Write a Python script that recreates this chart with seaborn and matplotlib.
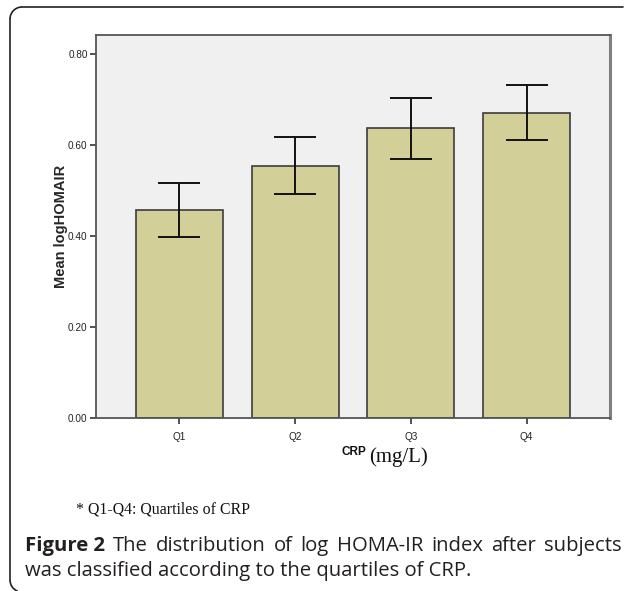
import numpy as np
import pandas as pd
import matplotlib
matplotlib.use('Agg')
import matplotlib.pyplot as plt
import seaborn as sns
from matplotlib.lines import Line2D
from matplotlib.patches import Arc

# Data
quartiles = ['Q1', 'Q2', 'Q3', 'Q4']
mean_loghomair = [0.457, 0.555, 0.637, 0.671]
ci_low = [0.399, 0.493, 0.569, 0.611]
ci_high = [0.516, 0.617, 0.703, 0.731]
y_ticks = [0.0, 0.2, 0.4, 0.6, 0.8]

df = pd.DataFrame({'CRP': quartiles, 'logHOMAIR': mean_loghomair})

sns.set_style('white')
plt.rcParams['font.family'] = ['Liberation Sans', 'DejaVu Sans']

fig = plt.figure(figsize=(6.25, 5.91), dpi=100)
ax = fig.add_axes([96 / 625, 1 - 418 / 591, 514 / 625, 383 / 591])
ax.set_facecolor('#f0f0f0')

sns.barplot(data=df, x='CRP', y='logHOMAIR', color='#d3cf98', saturation=1,
            width=0.75, edgecolor='#3c3c3c', linewidth=1.2, errorbar=None, ax=ax)

# error bars (95% CI)
means = np.array(mean_loghomair)
yerr = [means - np.array(ci_low), np.array(ci_high) - means]
ax.errorbar(np.arange(len(quartiles)), means, yerr=yerr, fmt='none',
            ecolor='#111111', elinewidth=1.4, capsize=15, capthick=1.4)

ax.set_xlim(-0.72, 3.72)
ax.set_ylim(0, 0.842)
ax.set_yticks(y_ticks)
ax.set_yticklabels([f'{t:.2f}' for t in y_ticks])
ax.tick_params(axis='both', labelsize=7.2, length=4, width=1.2, color='#333333',
               labelcolor='#222222', direction='out', pad=2, left=True, bottom=True)
ax.tick_params(axis='x', pad=6)

for side in ['left', 'bottom', 'top']:
    ax.spines[side].set_color('#555555')
    ax.spines[side].set_linewidth(1.3)
ax.spines['right'].set_color('#808080')
ax.spines['right'].set_linewidth(2.2)

ax.set_xlabel('')
ax.set_ylabel('Mean logHOMAIR', fontsize=10.5, fontweight='bold', labelpad=0)

# x axis label: bold sans + serif unit
fig.text(366 / 625, 1 - 455 / 591, 'CRP', fontsize=8.5, fontweight='bold',
         ha='right', va='baseline', color='#111111')
fig.text(369 / 625, 1 - 462 / 591, '(mg/L)', fontsize=15,
         family=['Liberation Serif', 'DejaVu Serif'], ha='left', va='baseline', color='#111111')

# footnote
fig.text(76 / 625, 1 - 513 / 591, '* Q1-Q4: Quartiles of CRP', fontsize=11.4,
         family=['Liberation Serif', 'DejaVu Serif'], ha='left', va='baseline', color='#111111')

# caption (first line justified to the full width)
cap_font = ['Open Sans', 'DejaVu Sans']
cap_size = 14.6
cap_color = '#231f20'
line1 = [('Figure 2', 'bold')] + [(w, 'normal') for w in
                                  'The distribution of log HOMA-IR index after subjects'.split()]
renderer = fig.canvas.get_renderer()
words = []
for w, weight in line1:
    t = fig.text(0, 1 - 551 / 591, w, fontsize=cap_size, fontweight=weight,
                 family=cap_font, ha='left', va='baseline', color=cap_color)
    words.append((t, t.get_window_extent(renderer).width))
x_left, x_right = 25, 622
gap = (x_right - x_left - sum(wd for _, wd in words)) / (len(words) - 1)
x = x_left
for t, wd in words:
    t.set_x(x / 625)
    x += wd + gap
fig.text(25 / 625, 1 - 576 / 591, 'was classified according to the quartiles of CRP.',
         fontsize=cap_size, family=cap_font, ha='left', va='baseline', color=cap_color)

# outer frame (top + left with rounded corners)
r = 12
fig.add_artist(Line2D([(10 + r) / 625, 623 / 625], [1 - 7 / 591, 1 - 7 / 591],
                      color='#222222', lw=1.2, transform=fig.transFigure))
fig.add_artist(Line2D([10 / 625, 10 / 625], [1 - (7 + r) / 591, 1 - 580 / 591],
                      color='#222222', lw=1.2, transform=fig.transFigure))
fig.add_artist(Arc(((10 + r) / 625, 1 - (7 + r) / 591), 2 * r / 625, 2 * r / 591,
                   theta1=90, theta2=180, color='#222222', lw=1.2, transform=fig.transFigure))
fig.add_artist(Arc(((10 + r) / 625, 1 - 580 / 591), 2 * r / 625, 2 * r / 591,
                   theta1=180, theta2=250, color='#222222', lw=1.2, transform=fig.transFigure))

fig.savefig('out.png', dpi=100, facecolor='white')
